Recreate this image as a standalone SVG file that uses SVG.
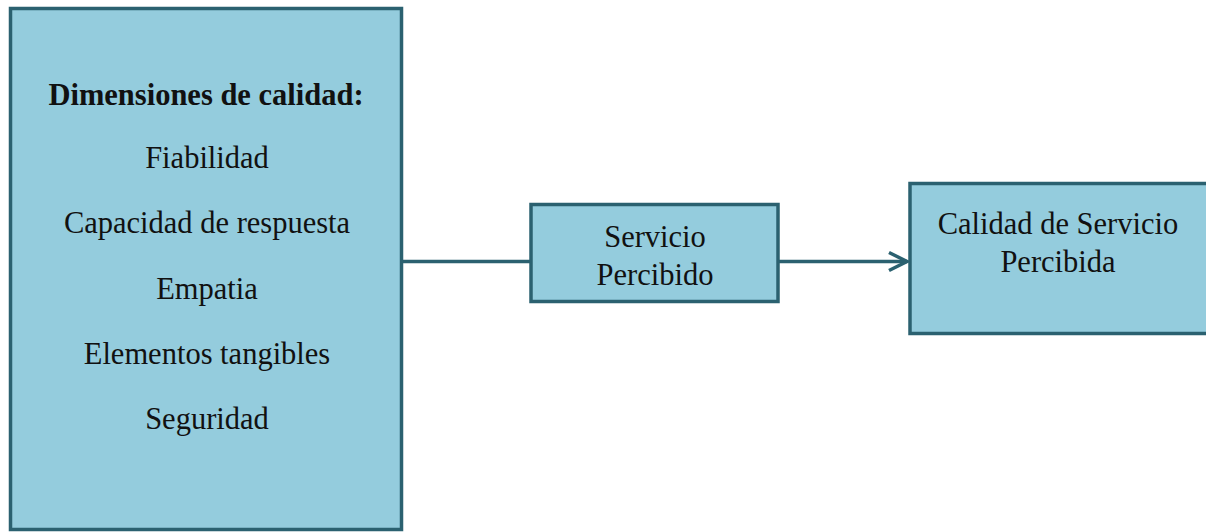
<svg xmlns="http://www.w3.org/2000/svg" width="1206" height="532" viewBox="0 0 1206 532">
  <style>
    .box { fill: #94ccdd; stroke: #2b6170; stroke-width: 3.5; }
    .label { font-family: "Liberation Serif", "Times New Roman", serif; font-size: 30.5px; fill: #111; text-anchor: middle; }
    .title { font-weight: bold; }
    .link { fill: none; stroke: #2b6170; stroke-width: 3.5; }
  </style>
  <defs>
    <marker id="chevron" markerUnits="userSpaceOnUse" markerWidth="24" markerHeight="24" viewBox="0 0 24 24" refX="20" refY="12" orient="auto">
      <path d="M2 3 L20 12 L2 21" fill="none" stroke="#2b6170" stroke-width="3.5" stroke-linejoin="miter"/>
    </marker>
  </defs>
  <rect width="1206" height="532" fill="#ffffff"/>

  <g id="connectors">
    <line class="link" x1="402" y1="261.5" x2="530" y2="261.5"/>
    <line class="link" x1="778" y1="261.5" x2="907" y2="261.5" marker-end="url(#chevron)"/>
  </g>

  <g id="dimensiones">
    <rect class="box" x="10.5" y="8.5" width="391" height="521"/>
    <text class="label title" x="206" y="105">Dimensiones de calidad:</text>
    <text class="label" x="207" y="168">Fiabilidad</text>
    <text class="label" x="207" y="233">Capacidad de respuesta</text>
    <text class="label" x="207" y="299">Empatia</text>
    <text class="label" x="207" y="364">Elementos tangibles</text>
    <text class="label" x="207" y="429">Seguridad</text>
  </g>

  <g id="servicio-percibido">
    <rect class="box" x="531" y="204.5" width="247" height="97"/>
    <text class="label" x="655" y="247">Servicio</text>
    <text class="label" x="655" y="285">Percibido</text>
  </g>

  <g id="calidad-percibida">
    <rect class="box" x="910" y="183.5" width="310" height="150"/>
    <text class="label" x="1058" y="234">Calidad de Servicio</text>
    <text class="label" x="1058" y="272">Percibida</text>
  </g>
</svg>
